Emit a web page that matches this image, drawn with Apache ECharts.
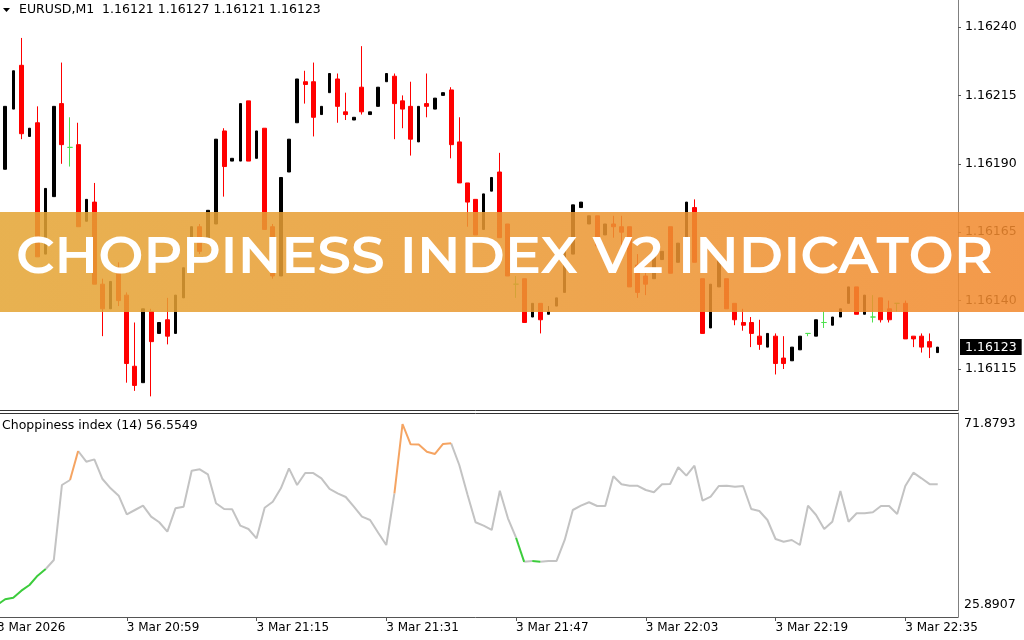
<!DOCTYPE html>
<html><head><meta charset="utf-8">
<script src="https://cdn.jsdelivr.net/npm/echarts@6/dist/echarts.min.js"></script>
<style>html,body{margin:0;padding:0;background:#fff;overflow:hidden;width:1024px;height:640px;position:relative}
#c{position:absolute;left:-7px;top:0;width:1031px;height:640px}</style>
</head><body><div id="c"></div><script>
// ---------- DATA ----------
const symbolName = 'EURUSD,M1';
const headerOHLC = [1.16121, 1.16127, 1.16121, 1.16123];
const indicatorName = 'Choppiness index (14)';
const firstMinute = '20:43';          // first (partly hidden) bar
const barCount = 119;                 // minutes covered by the time axis
const tickLabels = ['3 Mar 2026','3 Mar 20:59','3 Mar 21:15','3 Mar 21:31','3 Mar 21:47','3 Mar 22:03','3 Mar 22:19','3 Mar 22:35'];
const tickEvery = 16;
const priceTicks = [1.16115, 1.16140, 1.16165, 1.16190, 1.16215, 1.16240];
const chopTicks = [25.8907, 71.8793];
const chopLow = 37.0, chopHigh = 63.5;

// candles 20:44 .. 22:39
const open = [1.16188,1.16210,1.16226,1.16200,1.16205,1.16157,1.16178,1.16212,1.16196,1.16197,
1.16169,1.16176,1.16146,1.16137,1.16152,1.16142,1.16116,1.16110,1.16136,1.16128,
1.16133,1.16128,1.16141,1.16152,1.16167,1.16163,1.16168,1.16202,1.16191,1.16191,
1.16213,1.16192,1.16203,1.16167,1.16149,1.16187,1.16205,1.16220,1.16220,1.16208,
1.16216,1.16221,1.16209,1.16206,1.16218,1.16208,1.16211,1.16220,1.16222,1.16213,
1.16211,1.16198,1.16212,1.16210,1.16215,1.16217,1.16198,1.16183,1.16177,1.16166,
1.16180,1.16187,1.16168,1.16146,1.16148,1.16134,1.16139,1.16135,1.16138,1.16143,
1.16157,1.16174,1.16168,1.16171,1.16164,1.16168,1.16167,1.16167,1.16153,1.16149,
1.16148,1.16155,1.16167,1.16154,1.16163,1.16174,1.16148,1.16130,1.16145,1.16148,
1.16139,1.16132,1.16132,1.16127,1.16123,1.16127,1.16119,1.16118,1.16122,1.16128,
1.16127,1.16132,1.16131,1.16134,1.16139,1.16145,1.16135,1.16134,1.16141,1.16137,
1.16139,1.16139,1.16127,1.16127,1.16125,1.16121];
const close = [1.16211,1.16224,1.16201,1.16203,1.16156,1.16181,1.16211,1.16197,1.16196,1.16167,
1.16177,1.16146,1.16137,1.16147,1.16140,1.16117,1.16109,1.16137,1.16125,1.16132,
1.16127,1.16142,1.16152,1.16167,1.16158,1.16173,1.16199,1.16189,1.16192,1.16212,
1.16191,1.16202,1.16166,1.16149,1.16185,1.16199,1.16221,1.16219,1.16207,1.16211,
1.16223,1.16211,1.16208,1.16207,1.16209,1.16209,1.16218,1.16223,1.16212,1.16210,
1.16199,1.16211,1.16211,1.16214,1.16216,1.16197,1.16183,1.16176,1.16164,1.16179,
1.16185,1.16163,1.16149,1.16146,1.16132,1.16139,1.16133,1.16136,1.16141,1.16159,
1.16175,1.16176,1.16171,1.16160,1.16168,1.16167,1.16165,1.16145,1.16143,1.16146,
1.16157,1.16158,1.16150,1.16161,1.16176,1.16154,1.16128,1.16146,1.16155,1.16137,
1.16133,1.16131,1.16128,1.16124,1.16128,1.16117,1.16117,1.16123,1.16127,1.16128,
1.16133,1.16132,1.16134,1.16137,1.16145,1.16135,1.16142,1.16134,1.16133,1.16133,
1.16139,1.16126,1.16126,1.16123,1.16123,1.16123];
const high = [1.16211,1.16224,1.16236,1.16203,1.16211,1.16181,1.16211,1.16227,1.16207,1.16205,
1.16177,1.16183,1.16148,1.16147,1.16154,1.16143,1.16132,1.16137,1.16137,1.16132,
1.16141,1.16142,1.16152,1.16167,1.16168,1.16173,1.16199,1.16203,1.16192,1.16212,
1.16213,1.16202,1.16203,1.16168,1.16185,1.16199,1.16221,1.16224,1.16227,1.16211,
1.16223,1.16223,1.16216,1.16207,1.16233,1.16209,1.16218,1.16223,1.16223,1.16215,
1.16220,1.16211,1.16223,1.16214,1.16216,1.16218,1.16207,1.16183,1.16177,1.16179,
1.16185,1.16194,1.16168,1.16149,1.16148,1.16139,1.16139,1.16138,1.16141,1.16159,
1.16175,1.16176,1.16171,1.16171,1.16168,1.16171,1.16171,1.16167,1.16157,1.16152,
1.16157,1.16158,1.16167,1.16161,1.16176,1.16177,1.16148,1.16146,1.16155,1.16148,
1.16139,1.16137,1.16134,1.16133,1.16128,1.16128,1.16127,1.16123,1.16127,1.16128,
1.16133,1.16136,1.16134,1.16137,1.16145,1.16145,1.16142,1.16142,1.16141,1.16140,
1.16139,1.16140,1.16127,1.16128,1.16128,1.16123];
const low = [1.16188,1.16210,1.16199,1.16200,1.16156,1.16157,1.16178,1.16190,1.16189,1.16167,
1.16169,1.16146,1.16127,1.16137,1.16138,1.16110,1.16107,1.16110,1.16105,1.16128,
1.16124,1.16128,1.16141,1.16152,1.16157,1.16163,1.16168,1.16178,1.16191,1.16191,
1.16191,1.16192,1.16166,1.16148,1.16149,1.16187,1.16205,1.16212,1.16200,1.16208,
1.16216,1.16205,1.16206,1.16206,1.16208,1.16208,1.16211,1.16220,1.16199,1.16203,
1.16193,1.16198,1.16207,1.16210,1.16215,1.16192,1.16183,1.16167,1.16164,1.16166,
1.16180,1.16163,1.16149,1.16141,1.16132,1.16134,1.16128,1.16135,1.16138,1.16143,
1.16157,1.16174,1.16168,1.16160,1.16164,1.16163,1.16160,1.16145,1.16141,1.16142,
1.16148,1.16155,1.16150,1.16154,1.16163,1.16154,1.16128,1.16130,1.16145,1.16137,
1.16131,1.16129,1.16123,1.16122,1.16123,1.16113,1.16115,1.16118,1.16122,1.16127,
1.16127,1.16130,1.16131,1.16134,1.16139,1.16135,1.16135,1.16132,1.16132,1.16132,
1.16136,1.16126,1.16123,1.16121,1.16119,1.16121];

// choppiness index 20:43 .. 22:39
const chop = [25.8907,27.34,27.75,29.53,30.98,33.34,35.04,37.33,56.38,57.65,
65.02,62.30,62.90,57.90,55.54,53.66,48.94,50.03,51.12,48.33,
46.91,44.52,50.46,50.87,60.02,60.37,59.10,51.73,50.28,50.20,
46.04,45.20,42.84,50.61,52.14,55.54,60.62,56.38,59.43,59.40,
58.08,55.37,54.27,53.33,50.87,48.33,47.49,44.26,41.14,54.27,
71.8793,66.72,66.65,64.84,64.26,66.80,66.97,61.46,54.02,46.91,
46.04,44.95,54.93,47.92,42.99,36.85,37.05,36.90,37.10,37.10,
42.41,50.03,51.12,51.99,51.05,51.05,58.59,56.56,56.20,56.18,
55.11,54.53,56.56,56.64,60.88,58.75,61.29,52.39,53.41,56.13,
56.20,55.95,56.13,50.28,49.78,47.49,42.66,41.98,42.41,41.14,
51.12,48.76,45.20,47.06,54.86,47.06,49.19,49.19,49.45,51.05,
51.05,49.01,56.13,59.51,58.08,56.60,56.5549];

// ---------- BUILD ----------
const FONT = 'DejaVu Sans';
const OX = 7; // the chart div starts 7px left of the page edge
const times = [];
{
  const [h0, m0] = firstMinute.split(':').map(Number);
  for (let k = 0; k < barCount; k++) {
    const m = h0 * 60 + m0 + k;
    times.push(String(Math.floor(m / 60)).padStart(2, '0') + ':' + String(m % 60).padStart(2, '0'));
  }
}
const bull = [], bear = [], doji = [];
for (let k = 0; k < barCount; k++) {
  const i = k - 1;
  if (i < 0 || i >= open.length) { bull.push('-'); bear.push('-'); doji.push('-'); continue; }
  const d = [open[i], close[i], low[i], high[i]];
  if (open[i] === close[i]) { doji.push(d); bull.push('-'); bear.push('-'); }
  else if (close[i] > open[i]) { bull.push(d); bear.push('-'); doji.push('-'); }
  else { bear.push(d); bull.push('-'); doji.push('-'); }
}
function candle(data, col, w) {
  return { type: 'candlestick', xAxisIndex: 0, yAxisIndex: 0, data: data, barWidth: w,
    silent: true, animation: false,
    itemStyle: { color: col, color0: col, borderColor: col, borderColor0: col, borderColorDoji: col, borderWidth: 1 } };
}
const series = [
  candle(bull, '#000000', 3),
  candle(bear, '#ff0000', 4.5),
  candle(doji, '#4ee04e', 5)
];
const lastClose = close[close.length - 1];
// indicator line split into coloured runs (colour of a segment = zone of its end point)
const zone = v => v < chopLow ? 'low' : (v > chopHigh ? 'high' : 'mid');
const zoneColor = { low: '#3ccc3c', mid: '#c3c3c3', high: '#f5a462' };
const runs = [];
for (let k = 1; k < chop.length; k++) {
  const z = zone(chop[k]);
  const last = runs[runs.length - 1];
  if (last && last.z === z && last.end === k - 1) last.end = k; else runs.push({ z, start: k, end: k });
}
runs.forEach(r => {
  const d = new Array(barCount).fill(null);
  for (let k = r.start - 1; k <= r.end; k++) d[k] = chop[k];
  series.push({ type: 'line', xAxisIndex: 1, yAxisIndex: 1, data: d, symbol: 'none', showSymbol: false,
    connectNulls: false, silent: true, animation: false, z: r.z === 'mid' ? 3 : 4,
    lineStyle: { color: zoneColor[r.z], width: 2 } });
});

const tickInt = idx => idx % tickEvery === 0;
// price scale: 0.00025 per 68.4 px, 1.16240 at y=27
const pMax = 1.16240 + 27 / 2.736 * 1e-5, pMin = 1.16240 - 383 / 2.736 * 1e-5;
const cPer = (chopTicks[1] - chopTicks[0]) / 181;
const cMax = chopTicks[1] + 11 * cPer, cMin = chopTicks[0] - 12 * cPer;

// banner text width scaling
const bannerText = 'CHOPPINESS INDEX V2 INDICATOR';
const bannerFamily = 'Montserrat, Inter, "Open Sans", sans-serif';
const mctx = document.createElement('canvas').getContext('2d');
mctx.font = '600 52px ' + bannerFamily;
const bannerScale = 977 / mctx.measureText(bannerText).width;

const option = {
  animation: false,
  backgroundColor: '#ffffff',
  axisPointer: { triggerOn: 'none', link: [] },
  grid: [
    { left: 0, right: 66, top: 0, height: 410 },
    { left: 0, right: 66, top: 413, height: 204 }
  ],
  xAxis: [
    { gridIndex: 0, type: 'category', data: times, boundaryGap: true,
      axisLine: { show: true, lineStyle: { color: '#333', width: 1 } }, axisTick: { show: false }, axisLabel: { show: false }, splitLine: { show: false } },
    { gridIndex: 1, type: 'category', data: times, boundaryGap: true, position: 'bottom',
      axisLine: { show: true, lineStyle: { color: '#555', width: 1 } },
      axisTick: { show: true, alignWithLabel: true, interval: tickInt, length: 4, lineStyle: { color: '#555' } },
      axisLabel: { show: true, interval: tickInt, align: 'left', margin: 5, color: '#000', fontFamily: FONT, fontSize: 12,
        formatter: (v, idx) => tickLabels[idx / tickEvery] },
      splitLine: { show: false } },
    { gridIndex: 1, type: 'category', data: times, boundaryGap: true, position: 'top',
      axisLine: { show: true, lineStyle: { color: '#333', width: 1 } }, axisTick: { show: false }, axisLabel: { show: false } }
  ],
  yAxis: [
    { gridIndex: 0, type: 'value', position: 'right', min: pMin, max: pMax, scale: true,
      axisLine: { show: true, lineStyle: { color: '#808080' } },
      axisTick: { show: true, length: 3, customValues: priceTicks, lineStyle: { color: '#555' } },
      axisLabel: { show: true, customValues: priceTicks, margin: 7, color: '#000', fontFamily: FONT, fontSize: 12.5,
        formatter: v => v.toFixed(5) },
      splitLine: { show: false },
      axisPointer: { show: true, status: 'show', value: lastClose, type: 'line', snap: false, triggerTooltip: false,
        lineStyle: { color: 'rgba(0,0,0,0)', width: 0 },
        label: { show: true, precision: 5, formatter: p => Number(p.value).toFixed(5), margin: 2,
          backgroundColor: '#000', color: '#fff', padding: [2, 5, 1, 5], fontFamily: FONT, fontSize: 12.5, borderRadius: 0 } } },
    { gridIndex: 1, type: 'value', position: 'right', min: cMin, max: cMax, scale: true,
      axisLine: { show: true, lineStyle: { color: '#808080' } },
      axisTick: { show: false },
      axisLabel: { show: true, customValues: chopTicks, margin: 6, color: '#000', fontFamily: FONT, fontSize: 12.5,
        formatter: v => v.toFixed(4) },
      splitLine: { show: false } }
  ],
  series: series,
  graphic: [
    { type: 'polygon', z: 60, shape: { points: [[3 + OX, 8], [10 + OX, 8], [6.5 + OX, 12]] }, style: { fill: '#000' } },
    { type: 'text', z: 60, x: 19 + OX, y: 10, style: { text: symbolName + '  ' + headerOHLC.map(v => v.toFixed(5)).join(' '),
        fill: '#000', font: '12.5px "DejaVu Sans"', textVerticalAlign: 'middle' } },
    { type: 'text', z: 60, x: 2 + OX, y: 425.5, style: { text: indicatorName + ' ' + chop[chop.length - 1].toFixed(4),
        fill: '#000', font: '12.5px "DejaVu Sans"', textVerticalAlign: 'middle' } },
    { type: 'rect', z: 80, shape: { x: 0, y: 212, width: 1031, height: 100 },
      style: { opacity: 0.86, fill: { type: 'linear', x: 0, y: 0, x2: 1, y2: 0,
        colorStops: [{ offset: 0, color: '#e4a534' }, { offset: 0.5, color: '#ea9933' }, { offset: 1, color: '#f2892e' }] } } },
    { type: 'text', z: 90, x: 504.5 + OX, y: 258, scaleX: bannerScale, originX: 0, originY: 0,
      style: { text: bannerText, fill: '#ffffff', font: '600 52px ' + bannerFamily, textAlign: 'center', textVerticalAlign: 'middle' } }
  ]
};
const chart = echarts.init(document.getElementById('c'), null, { renderer: 'canvas' });
chart.setOption(option);
</script></body></html>
